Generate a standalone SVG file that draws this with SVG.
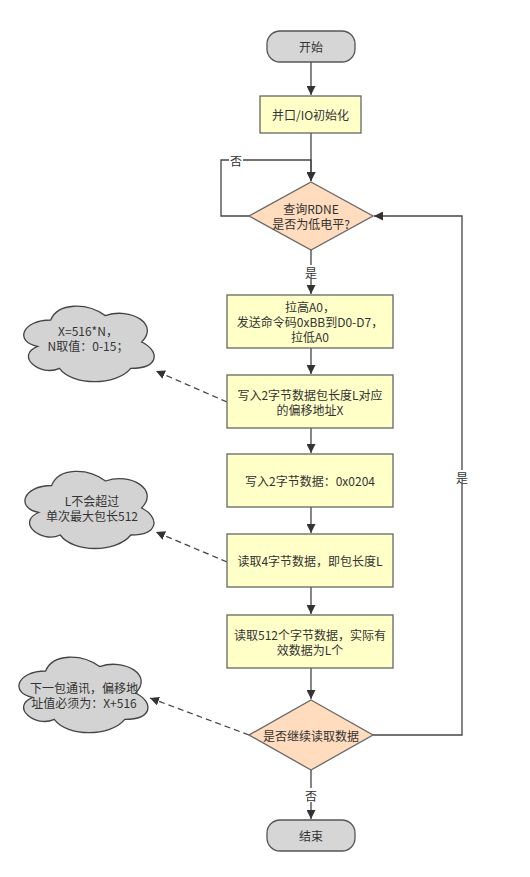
<svg xmlns="http://www.w3.org/2000/svg" xmlns:xlink="http://www.w3.org/1999/xlink" width="530" height="877" viewBox="0 0 530 877">
<style>
text{font-family:"Noto Sans CJK SC","Liberation Sans",sans-serif;font-size:12px;fill:#333;text-anchor:middle;dominant-baseline:central}
.term{fill:#d6d6d6;stroke:#555;stroke-width:1.3}
.box{fill:#ffffc8;stroke:#666;stroke-width:1.3}
.dec{fill:#ffdcbe;stroke:#666;stroke-width:1.3}
.cloud{fill:#d3d3d3;stroke:#444;stroke-width:1.3;vector-effect:non-scaling-stroke}
.edge{fill:none;stroke:#444;stroke-width:1.3}
.dash{fill:none;stroke:#444;stroke-width:1.3;stroke-dasharray:6 4}
.lbl{fill:#fff;stroke:none}
</style>
<defs>
<marker id="arr" viewBox="0 0 10 10" refX="10" refY="5" markerWidth="9" markerHeight="9" markerUnits="userSpaceOnUse" orient="auto">
<path d="M0,0 L10,5 L0,10 Z" fill="#333"/>
</marker>
<path id="cloudshape" class="cloud" d="M25,25 C5,25 0,50 16,55 C0,66 18,90 31,80 C40,100 70,100 80,80 C100,80 100,60 87.5,50 C100,30 80,10 62.5,20 C50,5 30,5 25,25 Z"/>
</defs>

<g id="connectors">
<path class="edge" d="M311,62 L311,95" marker-end="url(#arr)"/>
<path class="edge" d="M311,133 L311,181" marker-end="url(#arr)"/>
<path class="edge" d="M249,216 L221,216 L221,160 L311,160 L311,181" marker-end="url(#arr)"/>
<rect class="lbl" x="229" y="153" width="14" height="14"/>
<text x="236" y="160">否</text>
<path class="edge" d="M311,250 L311,294" marker-end="url(#arr)"/>
<rect class="lbl" x="304" y="265" width="14" height="14"/>
<text x="311" y="272">是</text>
<path class="edge" d="M311,348 L311,374" marker-end="url(#arr)"/>
<path class="edge" d="M311,428 L311,453" marker-end="url(#arr)"/>
<path class="edge" d="M311,507 L311,533" marker-end="url(#arr)"/>
<path class="edge" d="M311,587 L311,614" marker-end="url(#arr)"/>
<path class="edge" d="M311,668 L311,699" marker-end="url(#arr)"/>
<path class="edge" d="M311,770 L311,819" marker-end="url(#arr)"/>
<rect class="lbl" x="304" y="788" width="14" height="14"/>
<text x="311" y="795">否</text>
<path class="edge" d="M373,735 L462,735 L462,216 L374,216" marker-end="url(#arr)"/>
<rect class="lbl" x="455" y="470" width="14" height="14"/>
<text x="462" y="477">是</text>
<path class="dash" d="M227,402 L156,371" marker-end="url(#arr)"/>
<path class="dash" d="M227,562 L156,532" marker-end="url(#arr)"/>
<path class="dash" d="M249,735 L150,698" marker-end="url(#arr)"/>
</g>

<g id="start">
<rect class="term" x="267" y="31" width="88" height="31" rx="13" ry="13"/>
<text x="311" y="46.5">开始</text>
</g>
<g id="init">
<rect class="box" x="260" y="96" width="101" height="37"/>
<text x="310.5" y="114.5">并口/IO初始化</text>
</g>
<g id="check-rdne">
<path class="dec" d="M311,182 L373,216 L311,250 L249,216 Z"/>
<text x="311" y="208.5">查询RDNE</text>
<text x="311" y="223.5">是否为低电平?</text>
</g>
<g id="send-cmd">
<rect class="box" x="227" y="295" width="166" height="53"/>
<text x="310" y="306.5">拉高A0，</text>
<text x="310" y="321.5">发送命令码0xBB到D0-D7，</text>
<text x="310" y="336.5">拉低A0</text>
</g>
<g id="write-offset">
<rect class="box" x="227" y="375" width="166" height="53"/>
<text x="310" y="394">写入2字节数据包长度L对应</text>
<text x="310" y="409">的偏移地址X</text>
</g>
<g id="write-0204">
<rect class="box" x="227" y="454" width="166" height="53"/>
<text x="310" y="480.5">写入2字节数据：0x0204</text>
</g>
<g id="read-len">
<rect class="box" x="227" y="534" width="166" height="53"/>
<text x="310" y="560.5">读取4字节数据，即包长度L</text>
</g>
<g id="read-data">
<rect class="box" x="227" y="615" width="166" height="53"/>
<text x="310" y="634">读取512个字节数据，实际有</text>
<text x="310" y="649">效数据为L个</text>
</g>
<g id="continue">
<path class="dec" d="M311,700 L373,735 L311,770 L249,735 Z"/>
<text x="311" y="735">是否继续读取数据</text>
</g>
<g id="end">
<rect class="term" x="267" y="820" width="88" height="31" rx="13" ry="13"/>
<text x="311" y="835.5">结束</text>
</g>
<g id="note-offset">
<use xlink:href="#cloudshape" href="#cloudshape" transform="translate(14.3,298) scale(1.456,0.88)"/>
<text x="88" y="330">X=516*N，</text>
<text x="88" y="345">N取值：0-15；</text>
</g>
<g id="note-len">
<use xlink:href="#cloudshape" href="#cloudshape" transform="translate(15.6,463) scale(1.44,0.9)"/>
<text x="92" y="500">L不会超过</text>
<text x="92" y="515">单次最大包长512</text>
</g>
<g id="note-next">
<use xlink:href="#cloudshape" href="#cloudshape" transform="translate(9.6,649) scale(1.44,0.88)"/>
<text x="84" y="687">下一包通讯，偏移地</text>
<text x="84" y="702">址值必须为：X+516</text>
</g>
</svg>
